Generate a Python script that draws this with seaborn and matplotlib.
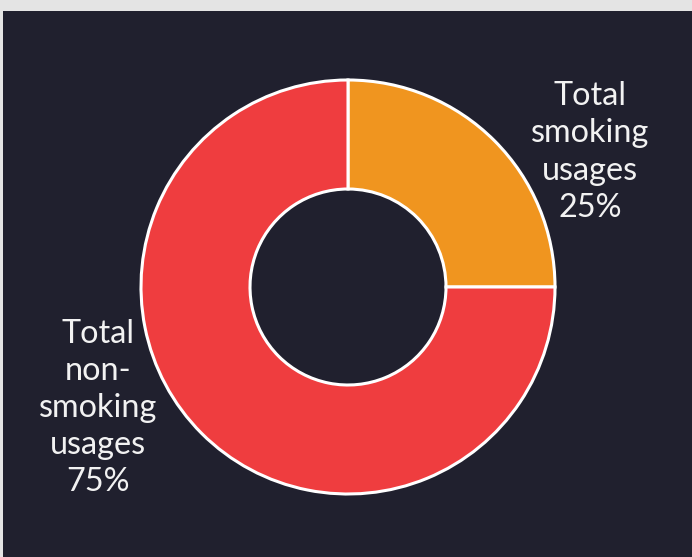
import matplotlib
matplotlib.use("Agg")
import matplotlib.pyplot as plt
import seaborn as sns
from matplotlib.patches import Rectangle

categories = ["Total\nsmoking\nusages", "Total\nnon-\nsmoking\nusages"]
values = [25, 75]
colors = ["#F0951F", "#EF3D3F"]

sns.set_style("white")
plt.rcParams['font.family'] = ['Lato', 'DejaVu Sans']

W, H = 692, 557
fig = plt.figure(figsize=(W / 100, H / 100), dpi=100, facecolor="#e4e4e4")
ax = fig.add_axes([0, 0, 1, 1])
ax.set_xlim(0, W)
ax.set_ylim(0, H)
ax.set_aspect("equal")
ax.axis("off")

bg = "#20202E"
ax.add_patch(Rectangle((3, 0), W - 3, H - 11, facecolor=bg, edgecolor="none", zorder=0))

cx, cy = 348, H - 287
R = 207
wedges, _ = ax.pie(values, colors=colors, startangle=90, counterclock=False,
                   center=(cx, cy), radius=R, frame=True,
                   wedgeprops=dict(width=R - 98, edgecolor="white", linewidth=2.2))
ax.set_xlim(0, W)
ax.set_ylim(0, H)
ax.axis("off")

total = sum(values)
pcts = [f"{v / total * 100:.0f}%" for v in values]
ax.text(590, H - 152, f"{categories[0]}\n{pcts[0]}", ha="center", va="center",
        color="#f2f2f2", fontsize=23.3, linespacing=1.3)
ax.text(98, H - 408, f"{categories[1]}\n{pcts[1]}", ha="center", va="center",
        color="#f2f2f2", fontsize=23.3, linespacing=1.3)

fig.savefig("out.png", dpi=100, facecolor=fig.get_facecolor())
